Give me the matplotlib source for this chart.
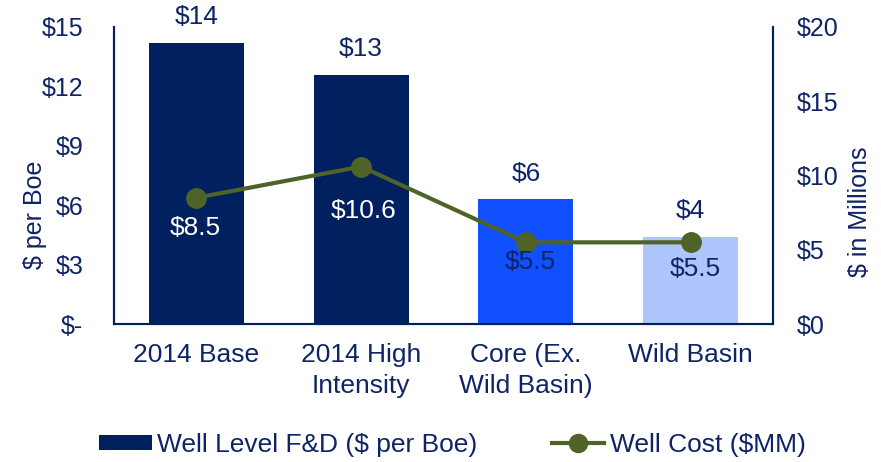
import matplotlib
matplotlib.use("Agg")
import matplotlib.pyplot as plt
from matplotlib.lines import Line2D
from matplotlib.patches import Patch
import numpy as np

categories = ["2014 Base", "2014 High\nIntensity", "Core (Ex.\nWild Basin)", "Wild Basin"]
fd_values = [14.2, 12.6, 6.3, 4.4]
fd_labels = ["$14", "$13", "$6", "$4"]
well_cost = [8.5, 10.6, 5.5, 5.5]
cost_labels = ["$8.5", "$10.6", "$5.5", "$5.5"]
left_ticks = [0, 3, 6, 9, 12, 15]
left_ticklabels = ["$-", "$3", "$6", "$9", "$12", "$15"]
right_ticks = [0, 5, 10, 15, 20]
right_ticklabels = ["$0", "$5", "$10", "$15", "$20"]

NAVY = "#002060"
TXT = "#0F2466"
bar_colors = ["#002060", "#002060", "#1150FF", "#AFC6FC"]
LINE = "#4F6228"
cost_label_colors = ["white", "white", TXT, TXT]
cost_label_offsets = [(-1, -22), (1.5, -32), (3, -14.5), (3, -19)]  # points

plt.rcParams["font.family"] = ["Liberation Sans", "DejaVu Sans"]

fig = plt.figure(figsize=(8.81, 4.62), dpi=100)
ax = fig.add_axes([114/881, 1-324/462, (773-114)/881, (324-27)/462])
ax2 = ax.twinx()

x = np.arange(len(categories))
ax.bar(x, fd_values, width=0.576, color=bar_colors, zorder=2)
ax.set_xlim(-0.5, 3.5)
ax.set_ylim(0, 15)
ax.set_yticks(left_ticks)
ax.set_yticklabels(left_ticklabels, fontsize=18, color=TXT)
ax.set_xticks(x)
ax.set_xticklabels(categories, fontsize=19, color=TXT, linespacing=1.37)
ax.tick_params(axis="x", length=0, pad=14)
ax.tick_params(axis="y", length=0, pad=22)
ax.spines["top"].set_visible(False)
ax2.spines["top"].set_visible(False)
for s in ["left", "bottom", "right"]:
    for a in (ax, ax2):
        a.spines[s].set_color(NAVY)
        a.spines[s].set_linewidth(1.5)

for xi, v, lab in zip(x, fd_values, fd_labels):
    ax.annotate(lab, (xi, v), xytext=(0, 18.5), textcoords="offset points",
                ha="center", va="center", fontsize=19, color=TXT)

ax2.plot(x, well_cost, color=LINE, lw=3, marker="o", markersize=14, zorder=3)
ax2.set_ylim(0, 20)
ax2.set_yticks(right_ticks)
ax2.set_yticklabels(right_ticklabels, fontsize=18, color=TXT)
ax2.tick_params(axis="y", length=0, pad=17)

for xi, v, lab, c, off in zip(x, well_cost, cost_labels, cost_label_colors, cost_label_offsets):
    ax2.annotate(lab, (xi, v), xytext=off, textcoords="offset points",
                 ha="center", va="center", fontsize=19, color=c)

W = 773 - 114
H = 324 - 27
ax.set_ylabel("$ per Boe", fontsize=18, color=TXT)
ax.yaxis.set_label_coords((47 - 114) / W, (324 - 215) / H)
ax2.set_ylabel("$ in Millions", fontsize=18, color=TXT)
ax2.yaxis.set_label_coords((848 - 114) / W, (324 - 212) / H)

handles = [Patch(facecolor=NAVY, edgecolor="none"),
           Line2D([], [], color=LINE, lw=3, marker="o", markersize=13)]
leg = fig.legend(handles, ["Well Level F&D ($ per Boe)", "Well Cost ($MM)"],
                 loc="center", bbox_to_anchor=(452.5/881, 1-445/462), ncol=2,
                 frameon=False, handlelength=2.0, handleheight=0.53, handletextpad=0.2,
                 columnspacing=2.8, borderpad=0.1, prop={"size": 19})
for t in leg.get_texts():
    t.set_color(TXT)

fig.savefig("out.png", dpi=100)
